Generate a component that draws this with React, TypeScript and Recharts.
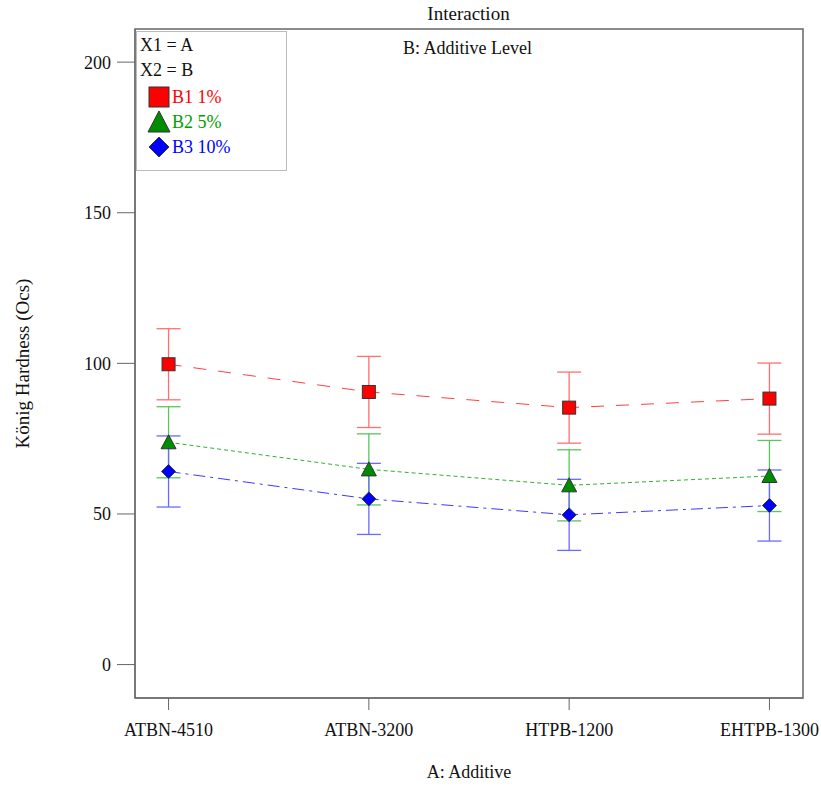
import React from "react"
import { LineChart, Line, XAxis, YAxis, ErrorBar, ReferenceArea } from "recharts"

const categories = ["ATBN-4510", "ATBN-3200", "HTPB-1200", "EHTPB-1300"]
const b1 = [99.7, 90.5, 85.3, 88.3]
const b2 = [73.8, 64.8, 59.5, 62.6]
const b3 = [64.1, 55.0, 49.7, 52.8]
const b1Err = [11.8, 11.8, 11.8, 11.8]
const b2Err = [11.8, 11.8, 11.8, 11.8]
const b3Err = [11.8, 11.8, 11.8, 11.8]
const yTicks = [0, 50, 100, 150, 200]

const data = categories.map((name, i) => ({
  x: i,
  name,
  b1: b1[i],
  b2: b2[i],
  b3: b3[i],
  e1: b1Err[i],
  e2: b2Err[i],
  e3: b3Err[i],
}))

const FONT = "'Liberation Serif', 'Times New Roman', serif"
const X_DOMAIN: [number, number] = [-0.1675, 3.1675]
const Y_DOMAIN: [number, number] = [-11.1, 211]

function Square({ cx, cy, size }: any) {
  const h = size / 2
  return <rect x={cx - h} y={cy - h} width={size} height={size} fill="#ff0000" stroke="#333" strokeWidth={1} />
}

function Triangle({ cx, cy, size }: any) {
  const h = size / 2
  const pts = `${cx},${cy - h - 1} ${cx - h - 1},${cy + h} ${cx + h + 1},${cy + h}`
  return <polygon points={pts} fill="#008c00" stroke="#333" strokeWidth={1} />
}

function Diamond({ cx, cy, size }: any) {
  const h = size / 2
  const pts = `${cx},${cy - h} ${cx + h},${cy} ${cx},${cy + h} ${cx - h},${cy}`
  return <polygon points={pts} fill="#0000ff" stroke="#333" strokeWidth={1} />
}

const legendItems = [
  { label: "B1 1%", color: "#ff0000", Shape: Square },
  { label: "B2 5%", color: "#00a000", Shape: Triangle },
  { label: "B3 10%", color: "#0000ff", Shape: Diamond },
]

// legend drawn as an overlay so it doesn't push the plot down
function LegendBox() {
  return (
    <div
      style={{
        position: "absolute",
        left: 136,
        top: 31,
        width: 149,
        height: 138,
        background: "#fff",
        border: "1px solid #bbb",
        fontFamily: FONT,
        fontSize: 18,
      }}
    >
      <div style={{ position: "absolute", left: 3, top: 3, color: "#111" }}>X1 = A</div>
      <div style={{ position: "absolute", left: 3, top: 28, color: "#111" }}>X2 = B</div>
      {legendItems.map((it, i) => (
        <div key={it.label} style={{ position: "absolute", left: 10, top: 53 + i * 25, height: 24, display: "flex", alignItems: "center" }}>
          <svg width={24} height={24} style={{ display: "block" }}>
            <it.Shape cx={12} cy={12} size={20} />
          </svg>
          <span style={{ color: it.color, marginLeft: 1 }}>{it.label}</span>
        </div>
      ))}
    </div>
  )
}

export default function App() {
  return (
    <div style={{ position: "absolute", left: 0, top: 0, width: 821, height: 786, background: "#fff" }}>
      <div style={{ position: "absolute", left: 0, width: 821, top: 3, textAlign: "center", fontFamily: FONT, fontSize: 19, color: "#111" }}>
        <span style={{ position: "relative", left: 58 }}>Interaction</span>
      </div>
      <LineChart width={821} height={786} data={data} margin={{ top: 29, right: 18, bottom: 58, left: 0 }}>
        <ReferenceArea
          x1={X_DOMAIN[0]}
          x2={X_DOMAIN[1]}
          y1={Y_DOMAIN[0]}
          y2={Y_DOMAIN[1]}
          fill="none"
          stroke="#666"
          strokeWidth={1.5}
          ifOverflow="visible"
        />
        <XAxis
          type="number"
          dataKey="x"
          domain={X_DOMAIN}
          ticks={[0, 1, 2, 3]}
          tickFormatter={(v: number) => categories[v] ?? ""}
          allowDataOverflow
          height={30}
          stroke="#666"
          tickSize={12}
          tickMargin={13}
          tick={{ fontFamily: FONT, fontSize: 18, fill: "#111" }}
          label={{ value: "A: Additive", position: "bottom", offset: 37, style: { fontFamily: FONT, fontSize: 18, fill: "#111" } }}
        />
        <YAxis
          type="number"
          domain={Y_DOMAIN}
          ticks={yTicks}
          allowDataOverflow
          width={135}
          stroke="#666"
          tickSize={18}
          tickMargin={6}
          tick={{ fontFamily: FONT, fontSize: 18, fill: "#111" }}
          label={{
            value: "König Hardness (Ocs)",
            angle: -90,
            position: "insideLeft",
            offset: 22,
            style: { fontFamily: FONT, fontSize: 19, fill: "#111", textAnchor: "middle" },
          }}
        />
        <Line
          dataKey="b1"
          stroke="#ff4040"
          strokeWidth={1}
          strokeDasharray="13 12"
          isAnimationActive={false}
          dot={(p: any) => <Square key={`s${p.index}`} cx={p.cx} cy={p.cy} size={13} />}
        >
          <ErrorBar dataKey="e1" direction="y" width={12} stroke="#ff6f6f" strokeWidth={1.3} />
        </Line>
        <Line
          dataKey="b2"
          stroke="#33b033"
          strokeWidth={1}
          strokeDasharray="4 3"
          isAnimationActive={false}
          dot={(p: any) => <Triangle key={`t${p.index}`} cx={p.cx} cy={p.cy} size={13} />}
        >
          <ErrorBar dataKey="e2" direction="y" width={12} stroke="#5cc45c" strokeWidth={1.3} />
        </Line>
        <Line
          dataKey="b3"
          stroke="#3a3aff"
          strokeWidth={1}
          strokeDasharray="12 5 3 5"
          isAnimationActive={false}
          dot={(p: any) => <Diamond key={`d${p.index}`} cx={p.cx} cy={p.cy} size={14} />}
        >
          <ErrorBar dataKey="e3" direction="y" width={12} stroke="#6a6aff" strokeWidth={1.3} />
        </Line>
      </LineChart>
      <LegendBox />
      <div style={{ position: "absolute", left: 403, top: 38, fontFamily: FONT, fontSize: 18, color: "#111" }}>B: Additive Level</div>
    </div>
  )
}
